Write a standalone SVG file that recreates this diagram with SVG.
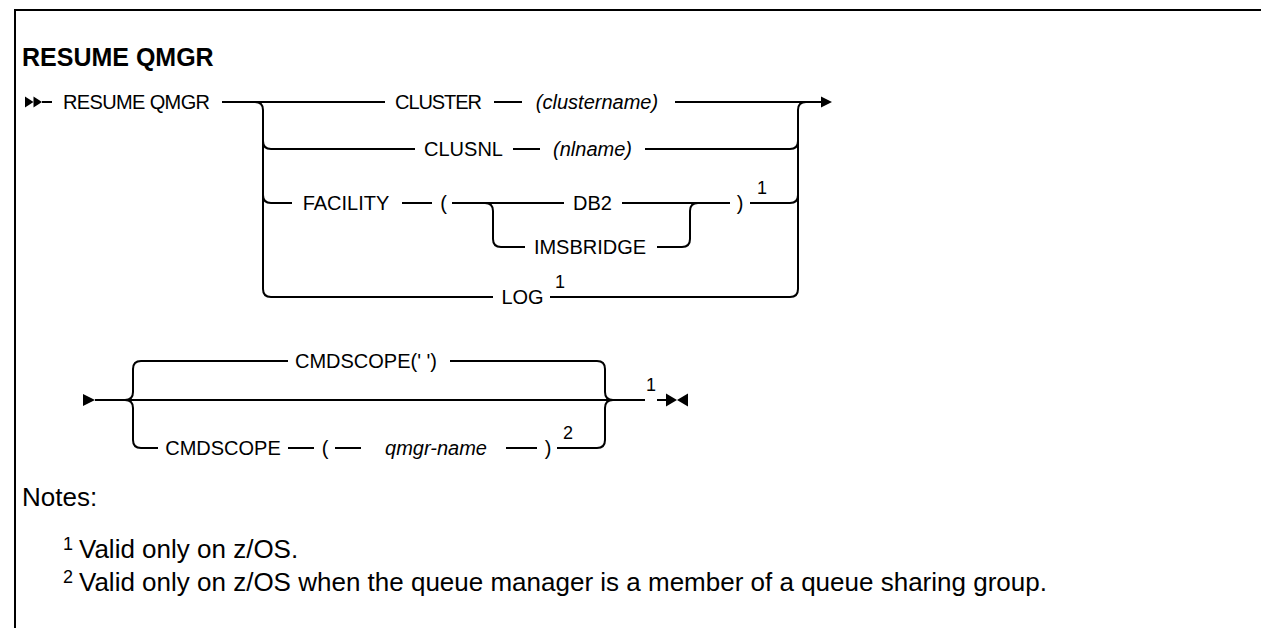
<svg xmlns="http://www.w3.org/2000/svg" width="1261" height="628" viewBox="0 0 1261 628">
<style>
.ln{fill:none;stroke:#000;stroke-width:2}
.t{font-family:"Liberation Sans",Arial,sans-serif;font-size:20px;fill:#000}
.m{text-anchor:middle}
.i{font-style:italic}
.sup{font-family:"Liberation Sans",Arial,sans-serif;font-size:18px;fill:#000;text-anchor:middle}
.title{font-family:"Liberation Sans",Arial,sans-serif;font-size:25px;font-weight:bold;fill:#000}
.note{font-family:"Liberation Sans",Arial,sans-serif;font-size:26px;fill:#000}
.ah{fill:#000}
</style>
<rect width="1261" height="628" fill="#fff"/>
<path class="ln" d="M15 628 V10 H1261"/>
<text class="title" x="22" y="66">RESUME QMGR</text>

<g id="connectors">
<polygon class="ah" points="25,96.5 33.5,102 25,107.5"/>
<polygon class="ah" points="33.5,96.5 42,102 33.5,107.5"/>
<path class="ln" d="M42 102 H52"/>
<path class="ln" d="M222 102 H385"/>
<path class="ln" d="M494 102 H522"/>
<path class="ln" d="M675 102 H822"/>
<polygon class="ah" points="821,96.5 832,102 821,107.5"/>
<path class="ln" d="M255 102 Q263 102 263 110 V289 Q263 297 271 297 H493"/>
<path class="ln" d="M263 141 Q263 149 271 149 H415"/>
<path class="ln" d="M513 149 H540"/>
<path class="ln" d="M645 149 H790 Q798 149 798 141"/>
<path class="ln" d="M798 289 V110 Q798 102 806 102"/>
<path class="ln" d="M263 195 Q263 203 271 203 H292"/>
<path class="ln" d="M402 203 H432"/>
<path class="ln" d="M452 203 H564"/>
<path class="ln" d="M622 203 H730"/>
<path class="ln" d="M750 203 H790 Q798 203 798 195"/>
<path class="ln" d="M485 203 Q493 203 493 211 V239 Q493 247 501 247 H525"/>
<path class="ln" d="M657 247 H682 Q690 247 690 239 V211 Q690 203 698 203"/>
<path class="ln" d="M550 297 H790 Q798 297 798 289"/>

<polygon class="ah" points="83,394 95,400 83,406"/>
<path class="ln" d="M95 400 H645"/>
<path class="ln" d="M657 400 H667"/>
<polygon class="ah" points="666,393.5 677,400 666,406.5"/>
<polygon class="ah" points="688,393.5 677,400 688,406.5"/>
<path class="ln" d="M125 400 Q133 400 133 392 V369 Q133 361 141 361 H288"/>
<path class="ln" d="M125 400 Q133 400 133 408 V440 Q133 448 141 448 H158"/>
<path class="ln" d="M450 361 H597 Q605 361 605 369 V392 Q605 400 613 400"/>
<path class="ln" d="M288 448 H314"/>
<path class="ln" d="M335 448 H361"/>
<path class="ln" d="M506 448 H537"/>
<path class="ln" d="M557 448 H597 Q605 448 605 440 V408 Q605 400 613 400"/>
</g>

<g id="n-resume"><text class="t" x="63" y="109" textLength="147">RESUME QMGR</text></g>
<g id="n-cluster"><text class="t m" x="438.5" y="109" textLength="87">CLUSTER</text></g>
<g id="n-clustername"><text class="t m i" x="597" y="109">(clustername)</text></g>
<g id="n-clusnl"><text class="t m" x="463.5" y="156">CLUSNL</text></g>
<g id="n-nlname"><text class="t m i" x="592.5" y="156">(nlname)</text></g>
<g id="n-facility"><text class="t m" x="346" y="210">FACILITY</text></g>
<g id="n-lparen1"><text class="t m" x="443.5" y="210">(</text></g>
<g id="n-db2"><text class="t m" x="592.5" y="210">DB2</text></g>
<g id="n-imsbridge"><text class="t m" x="590" y="254">IMSBRIDGE</text></g>
<g id="n-rparen1"><text class="t m" x="740" y="210">)</text><text class="sup" x="762" y="194">1</text></g>
<g id="n-log"><text class="t m" x="522.5" y="304">LOG</text><text class="sup" x="560" y="288">1</text></g>

<g id="n-cmdscope-blank"><text class="t m" x="366" y="368">CMDSCOPE(' ')</text></g>
<g id="n-cmdscope"><text class="t m" x="223" y="455">CMDSCOPE</text></g>
<g id="n-lparen2"><text class="t m" x="325" y="455">(</text></g>
<g id="n-qmgr"><text class="t m i" x="436" y="455">qmgr-name</text></g>
<g id="n-rparen2"><text class="t m" x="548" y="455">)</text><text class="sup" x="568" y="439">2</text></g>
<g id="n-end"><text class="sup" x="651" y="391">1</text></g>

<g id="notes">
<text class="note" x="22" y="506">Notes:</text>
<text class="sup" x="68" y="550">1</text>
<text class="note" x="79" y="558">Valid only on z/OS.</text>
<text class="sup" x="68" y="583">2</text>
<text class="note" x="79" y="591">Valid only on z/OS when the queue manager is a member of a queue sharing group.</text>
</g>
</svg>
